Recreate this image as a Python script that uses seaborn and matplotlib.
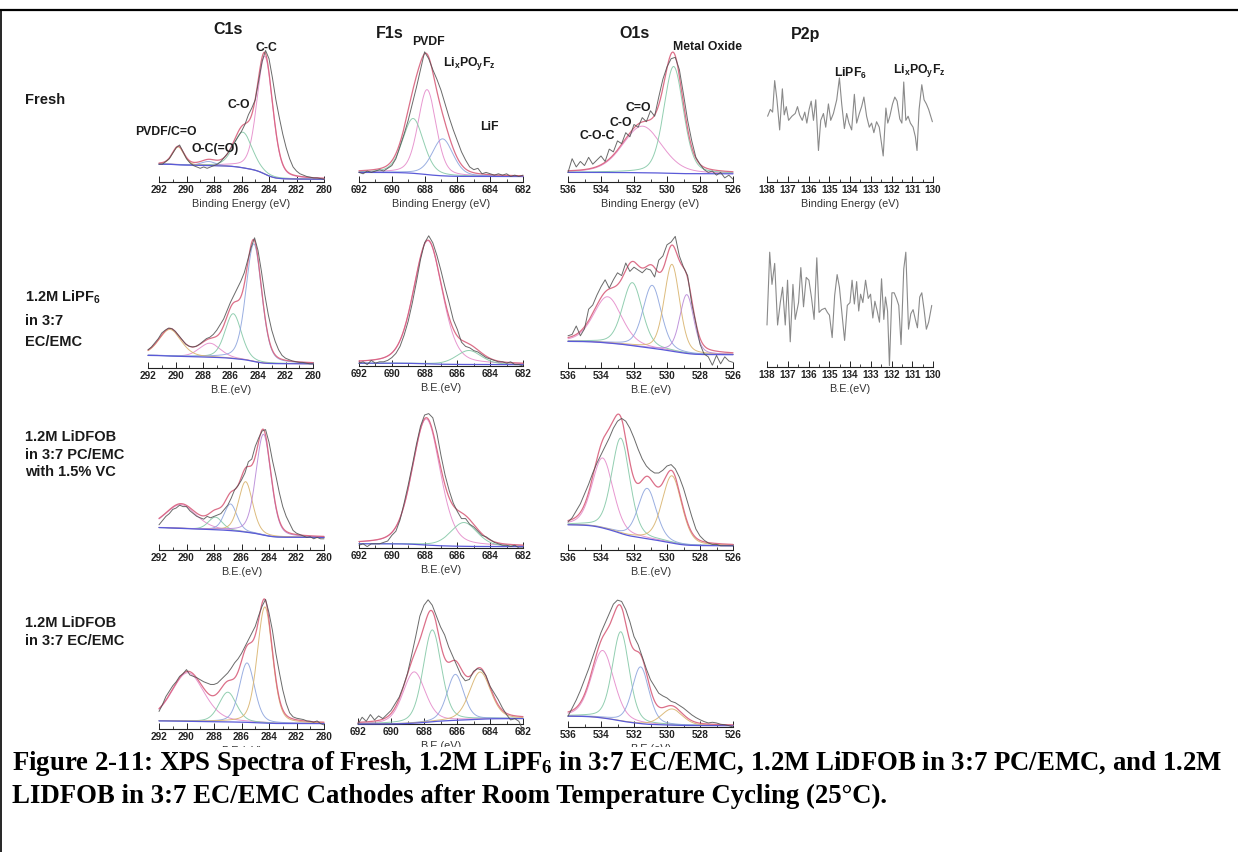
import numpy as np
import matplotlib
matplotlib.use("Agg")
import matplotlib.pyplot as plt
from matplotlib.lines import Line2D
from matplotlib.ticker import MultipleLocator, FormatStrFormatter
import seaborn as sns

# ------------------------------------------------------------------ data
# energy grids of the measured spectra (eV)
C1S_E = np.linspace(292, 280, 49)
F1S_E = np.linspace(692, 682, 41)
O1S_E = np.linspace(536, 526, 41)

# measured intensities (normalised counts)
C1S_FRESH = [0.13, 0.13, 0.15, 0.17, 0.21, 0.25, 0.27, 0.22, 0.17, 0.14,
             0.12, 0.11, 0.10, 0.11, 0.10, 0.11, 0.12, 0.13, 0.15, 0.18,
             0.21, 0.25, 0.29, 0.33, 0.37, 0.42, 0.49, 0.54, 0.60, 0.74,
             0.88, 0.96, 0.90, 0.76, 0.60, 0.47, 0.35, 0.25, 0.17, 0.11,
             0.08, 0.06, 0.05, 0.04, 0.035, 0.03, 0.03, 0.025, 0.02]
F1S_FRESH = [0.07, 0.06, 0.08, 0.07, 0.08, 0.09, 0.08, 0.10, 0.12, 0.17,
             0.26, 0.35, 0.45, 0.57, 0.69, 0.82, 0.95, 0.90, 0.82, 0.75,
             0.67, 0.57, 0.47, 0.38, 0.30, 0.22, 0.16, 0.11, 0.09, 0.10,
             0.06, 0.07, 0.06, 0.05, 0.06, 0.05, 0.06, 0.04, 0.05, 0.04, 0.05]
O1S_FRESH = [0.07, 0.17, 0.11, 0.15, 0.12, 0.18, 0.13, 0.16, 0.19, 0.15,
             0.24, 0.22, 0.30, 0.28, 0.36, 0.33, 0.42, 0.40, 0.47, 0.44,
             0.52, 0.48, 0.62, 0.75, 0.84, 0.90, 0.91, 0.82, 0.64, 0.45,
             0.30, 0.18, 0.13, 0.09, 0.07, 0.08, 0.05, 0.07, 0.03, 0.05, 0.02]
P2P_FRESH_E = [137.97, 137.84, 137.73, 137.63, 137.52, 137.39, 137.26, 137.17, 137.07, 136.96,
               136.80, 136.64, 136.53, 136.43, 136.30, 136.18, 136.08, 135.97, 135.87, 135.76,
               135.65, 135.52, 135.41, 135.28, 135.17, 135.04, 134.93, 134.80, 134.64, 134.51,
               134.40, 134.27, 134.16, 134.05, 133.92, 133.79, 133.68, 133.55, 133.44, 133.33,
               133.20, 133.07, 132.96, 132.85, 132.72, 132.59, 132.48, 132.40, 132.27, 132.18,
               132.08, 131.95, 131.84, 131.73, 131.60, 131.50, 131.41, 131.31, 131.20, 131.09,
               130.96, 130.85, 130.77, 130.67, 130.54, 130.43, 130.32, 130.21, 130.03]
P2P_FRESH = [0.48, 0.53, 0.51, 0.74, 0.60, 0.38, 0.68, 0.49, 0.55, 0.45,
             0.48, 0.50, 0.55, 0.49, 0.45, 0.51, 0.43, 0.53, 0.59, 0.45,
             0.60, 0.23, 0.45, 0.50, 0.40, 0.57, 0.45, 0.50, 0.60, 0.76,
             0.57, 0.39, 0.50, 0.43, 0.38, 0.64, 0.43, 0.50, 0.55, 0.62,
             0.48, 0.40, 0.43, 0.36, 0.44, 0.40, 0.28, 0.19, 0.54, 0.43,
             0.48, 0.57, 0.62, 0.59, 0.46, 0.43, 0.73, 0.45, 0.48, 0.43,
             0.40, 0.33, 0.23, 0.53, 0.71, 0.60, 0.57, 0.53, 0.44]

C1S_LIPF6 = [0.13, 0.15, 0.18, 0.21, 0.25, 0.27, 0.285, 0.28, 0.26, 0.23,
             0.20, 0.17, 0.155, 0.15, 0.155, 0.17, 0.19, 0.21, 0.22, 0.24,
             0.27, 0.31, 0.35, 0.41, 0.47, 0.52, 0.57, 0.62, 0.68, 0.77,
             0.86, 0.93, 0.84, 0.69, 0.52, 0.38, 0.27, 0.19, 0.13, 0.09,
             0.07, 0.06, 0.05, 0.045, 0.04, 0.04, 0.035, 0.03, 0.03]
F1S_LIPF6 = [0.02, 0.03, 0.01, 0.04, 0.02, 0.03, 0.03, 0.04, 0.06, 0.09,
             0.14, 0.22, 0.32, 0.45, 0.60, 0.76, 0.88, 0.93, 0.88, 0.79,
             0.68, 0.56, 0.45, 0.33, 0.26, 0.17, 0.14, 0.13, 0.11, 0.10,
             0.08, 0.06, 0.05, 0.04, 0.03, 0.03, 0.02, 0.03, 0.01, 0.01, 0.00]
O1S_LIPF6 = [0.23, 0.24, 0.30, 0.23, 0.28, 0.42, 0.45, 0.52, 0.58, 0.63,
             0.57, 0.63, 0.68, 0.66, 0.75, 0.69, 0.72, 0.70, 0.68, 0.71,
             0.70, 0.65, 0.77, 0.80, 0.88, 0.90, 0.94, 0.80, 0.72, 0.66,
             0.46, 0.32, 0.17, 0.10, 0.08, 0.02, 0.09, 0.03, 0.08, 0.05, 0.04]
P2P_LIPF6_E = [138.00, 137.87, 137.76, 137.63, 137.49, 137.36, 137.25, 137.12, 137.01, 136.88,
               136.75, 136.64, 136.48, 136.37, 136.24, 136.11, 135.98, 135.86, 135.73, 135.60,
               135.49, 135.36, 135.20, 135.09, 134.99, 134.86, 134.74, 134.62, 134.51, 134.38,
               134.26, 134.13, 134.00, 133.90, 133.79, 133.68, 133.58, 133.49, 133.38, 133.25,
               133.12, 133.01, 132.90, 132.80, 132.69, 132.58, 132.48, 132.37, 132.29, 132.19,
               132.10, 131.98, 131.87, 131.76, 131.65, 131.54, 131.41, 131.31, 131.18, 131.07,
               130.96, 130.85, 130.75, 130.64, 130.54, 130.43, 130.32, 130.21, 130.06]
P2P_LIPF6 = [0.30, 0.82, 0.59, 0.74, 0.30, 0.46, 0.57, 0.30, 0.62, 0.18,
             0.59, 0.34, 0.46, 0.71, 0.43, 0.64, 0.62, 0.50, 0.34, 0.78,
             0.39, 0.41, 0.42, 0.39, 0.37, 0.21, 0.51, 0.66, 0.57, 0.37,
             0.19, 0.44, 0.46, 0.62, 0.45, 0.61, 0.40, 0.52, 0.46, 0.62,
             0.49, 0.52, 0.35, 0.47, 0.40, 0.32, 0.63, 0.34, 0.50, 0.40,
             0.01, 0.53, 0.53, 0.49, 0.44, 0.16, 0.70, 0.82, 0.27, 0.38,
             0.41, 0.34, 0.28, 0.50, 0.53, 0.41, 0.27, 0.32, 0.44]

C1S_PC_VC = [0.18, 0.21, 0.24, 0.26, 0.29, 0.30, 0.32, 0.31, 0.31, 0.28,
             0.26, 0.24, 0.23, 0.22, 0.24, 0.23, 0.24, 0.25, 0.26, 0.29,
             0.32, 0.37, 0.43, 0.46, 0.50, 0.55, 0.63, 0.65, 0.74, 0.80,
             0.85, 0.86, 0.77, 0.64, 0.53, 0.41, 0.31, 0.24, 0.19, 0.14,
             0.12, 0.11, 0.10, 0.09, 0.095, 0.08, 0.09, 0.08, 0.08]
F1S_PC_VC = [0.02, 0.03, 0.01, 0.03, 0.03, 0.03, 0.04, 0.05, 0.09, 0.12,
             0.20, 0.32, 0.45, 0.59, 0.74, 0.87, 0.95, 0.96, 0.93, 0.82,
             0.66, 0.52, 0.41, 0.32, 0.26, 0.21, 0.21, 0.17, 0.15, 0.12,
             0.09, 0.08, 0.06, 0.04, 0.03, 0.02, 0.02, 0.01, 0.02, 0.00, 0.00]
O1S_PC_VC = [0.20, 0.23, 0.28, 0.33, 0.40, 0.47, 0.55, 0.62, 0.68, 0.74,
             0.80, 0.87, 0.92, 0.94, 0.92, 0.87, 0.80, 0.72, 0.65, 0.60,
             0.57, 0.55, 0.55, 0.57, 0.60, 0.61, 0.58, 0.52, 0.44, 0.34,
             0.24, 0.15, 0.10, 0.07, 0.05, 0.04, 0.04, 0.03, 0.03, 0.03, 0.03]

C1S_EC = [0.13, 0.18, 0.24, 0.28, 0.32, 0.35, 0.39, 0.41, 0.44, 0.40,
          0.39, 0.38, 0.365, 0.35, 0.34, 0.33, 0.33, 0.34, 0.365, 0.39,
          0.415, 0.45, 0.49, 0.52, 0.56, 0.61, 0.66, 0.71, 0.76, 0.84,
          0.91, 0.96, 0.86, 0.73, 0.56, 0.42, 0.29, 0.19, 0.12, 0.09,
          0.08, 0.075, 0.07, 0.06, 0.057, 0.05, 0.06, 0.04, 0.03]
F1S_EC = [0.00, 0.05, 0.02, 0.07, 0.03, 0.06, 0.04, 0.07, 0.10, 0.15,
          0.20, 0.28, 0.375, 0.51, 0.65, 0.80, 0.88, 0.92, 0.88, 0.80,
          0.72, 0.66, 0.57, 0.50, 0.43, 0.36, 0.32, 0.33, 0.39, 0.41,
          0.40, 0.36, 0.28, 0.23, 0.18, 0.12, 0.07, 0.03, 0.04, 0.02, -0.05]
O1S_EC = [0.08, 0.14, 0.20, 0.27, 0.35, 0.43, 0.52, 0.61, 0.70, 0.77,
          0.84, 0.91, 0.94, 0.93, 0.87, 0.78, 0.67, 0.61, 0.52, 0.43,
          0.35, 0.30, 0.25, 0.23, 0.215, 0.19, 0.18, 0.16, 0.14, 0.115,
          0.09, 0.07, 0.054, 0.04, 0.03, 0.035, 0.03, 0.02, 0.017, 0.01, 0.00]

# fitted components: (centre eV, height, FWHM eV)
C1S_FRESH_FIT = [(284.3, 0.86, 1.35), (285.9, 0.26, 1.6), (288.4, 0.03, 1.2), (290.6, 0.13, 1.0)]
F1S_FRESH_FIT = [(687.85, 0.62, 1.3), (688.7, 0.40, 1.5), (686.9, 0.27, 1.5)]
O1S_FRESH_FIT = [(531.5, 0.34, 2.8), (529.6, 0.78, 1.4)]
C1S_LIPF6_FIT = [(287.5, 0.10, 1.8), (285.8, 0.32, 1.4), (284.3, 0.84, 1.35), (290.4, 0.19, 1.9)]
F1S_LIPF6_FIT = [(687.8, 0.88, 2.05), (685.3, 0.10, 1.8)]
O1S_LIPF6_FIT = [(533.6, 0.33, 2.0), (532.1, 0.45, 1.4), (530.9, 0.45, 1.3),
                 (529.7, 0.62, 1.1), (528.8, 0.42, 1.0)]
C1S_PC_VC_FIT = [(290.4, 0.17, 2.6), (287.9, 0.09, 1.2), (286.8, 0.19, 1.1),
                 (285.7, 0.36, 1.2), (284.4, 0.72, 1.3)]
F1S_PC_VC_FIT = [(687.9, 0.90, 2.0), (685.6, 0.17, 1.9)]
O1S_PC_VC_FIT = [(533.9, 0.50, 1.5), (532.8, 0.68, 1.3), (531.2, 0.36, 1.3), (529.7, 0.48, 1.4)]
C1S_EC_FIT = [(289.9, 0.36, 2.8), (287.0, 0.22, 1.5), (285.6, 0.44, 1.3), (284.3, 0.86, 1.3)]
F1S_EC_FIT = [(688.6, 0.38, 1.6), (687.5, 0.68, 1.3), (686.1, 0.34, 1.2), (684.6, 0.35, 1.5)]
O1S_EC_FIT = [(533.9, 0.50, 1.6), (532.8, 0.66, 1.2), (531.6, 0.42, 1.2), (529.7, 0.12, 1.5)]

# Shirley background end levels: (high-BE side, low-BE side)
C1S_FRESH_BG, F1S_FRESH_BG, O1S_FRESH_BG = (0.13, 0.02), (0.07, 0.04), (0.07, 0.06)
C1S_LIPF6_BG, F1S_LIPF6_BG, O1S_LIPF6_BG = (0.09, 0.03), (0.02, 0.01), (0.19, 0.095)
C1S_PC_VC_BG, F1S_PC_VC_BG, O1S_PC_VC_BG = (0.16, 0.09), (0.03, 0.01), (0.18, 0.03)
C1S_EC_BG, F1S_EC_BG, O1S_EC_BG = (0.06, 0.04), (0.00, 0.04), (0.08, 0.01)

SAMPLES = ["Fresh", "1.2M LiPF$_6$\nin 3:7\nEC/EMC",
           "1.2M LiDFOB\nin 3:7 PC/EMC\nwith 1.5% VC", "1.2M LiDFOB\nin 3:7 EC/EMC"]
REGIONS = ["C1s", "F1s", "O1s", "P2p"]
RANGES = {"C1s": (280, 292, 2), "F1s": (682, 692, 2), "O1s": (526, 536, 2), "P2p": (130, 138, 1)}

CAPTION = ["Figure 2-11: XPS Spectra of Fresh, 1.2M LiPF$_6$ in 3:7 EC/EMC, "
           "1.2M LiDFOB in 3:7 PC/EMC, and 1.2M",
           "LIDFOB in 3:7 EC/EMC Cathodes after Room Temperature Cycling (25\u00b0C)."]

# ------------------------------------------------------------------ style
sns.set_theme(style="white")
plt.rcParams["font.family"] = ["Liberation Sans", "DejaVu Sans"]
plt.rcParams["mathtext.default"] = "regular"

W, H = 1238, 852
fig = plt.figure(figsize=(W / 100, H / 100), dpi=100)
fig.patch.set_facecolor("white")

RAW_C, ENV_C, BG_C = "#505050", "#d8607c", "#5a5ad8"
COMP_C = ["#e58ccb", "#86c9a8", "#8fa6de", "#d9b46f", "#b98ad8"]


def ftext(x, y, s, **kw):
    return fig.text(x / W, 1 - y / H, s, **kw)


def panel_axes(left, right, axis_y, height):
    return fig.add_axes([left / W, 1 - axis_y / H, (right - left) / W, height / H])


def draw(ax, x, y, color, lw, z=2, alpha=1.0):
    sns.lineplot(x=np.asarray(x, float), y=np.asarray(y, float), ax=ax, color=color,
                 linewidth=lw, errorbar=None, legend=False, zorder=z, alpha=alpha)
    ax.lines[-1].set_clip_on(False)


def pseudo_voigt(E, c, h, w, eta=0.3):
    d = (E - c) / w
    return h * ((1 - eta) * np.exp(-4 * np.log(2) * d * d) + eta / (1 + 4 * d * d))


def style_axis(ax, region, xlabel):
    lo, hi, step = RANGES[region]
    ax.set_xlim(hi, lo)
    ax.set_ylim(0, 1)
    ax.patch.set_alpha(0)
    for s in ("top", "left", "right"):
        ax.spines[s].set_visible(False)
    ax.spines["bottom"].set_linewidth(0.8)
    ax.spines["bottom"].set_color("#222222")
    ax.set_yticks([])
    ax.xaxis.set_major_locator(MultipleLocator(step))
    ax.xaxis.set_minor_locator(MultipleLocator(step / 2))
    ax.xaxis.set_major_formatter(FormatStrFormatter("%d"))
    ax.tick_params(axis="x", which="major", direction="in", length=4, width=0.7,
                   labelsize=7.2, pad=2, colors="#222222", bottom=True)
    ax.tick_params(axis="x", which="minor", direction="in", length=2.5, width=0.6,
                   colors="#222222", bottom=True)
    for lab in ax.get_xticklabels():
        lab.set_fontweight("bold")
    ax.set_xlabel(xlabel, fontsize=7.8, labelpad=3, color="#333333")
    ax.set_ylabel("")


def fitted_panel(ax, region, E, raw, fit, bg_levels):
    lo, hi, _ = RANGES[region]
    Ef = np.linspace(lo, hi, 500)
    comps = [pseudo_voigt(Ef, c, h, w) for c, h, w in fit]
    total = np.sum(comps, axis=0)
    cum = np.concatenate([[0], np.cumsum(0.5 * (total[1:] + total[:-1]) * np.diff(Ef))])
    bg_hi, bg_lo = bg_levels
    bg = bg_lo + (bg_hi - bg_lo) * cum / cum[-1]
    for i, comp in enumerate(comps):
        draw(ax, Ef, bg + comp, COMP_C[i % len(COMP_C)], 0.7, z=2, alpha=0.9)
    draw(ax, Ef, bg, BG_C, 0.9, z=3)
    draw(ax, Ef, bg + total, ENV_C, 0.9, z=4, alpha=0.9)
    draw(ax, E, raw, RAW_C, 0.7, z=5, alpha=0.85)


# panel boxes in pixels: left, right, axis line y, box height
BOX = {
    (0, 0): (159, 324, 182, 137), (0, 1): (359, 523, 182, 137),
    (0, 2): (568, 733, 182, 137), (0, 3): (767, 933, 182, 137),
    (1, 0): (148, 313, 368, 140), (1, 1): (359, 523, 366, 140),
    (1, 2): (568, 733, 368, 140), (1, 3): (767, 933, 367, 140),
    (2, 0): (159, 324, 550, 140), (2, 1): (359, 523, 548, 140),
    (2, 2): (568, 733, 550, 140),
    (3, 0): (159, 324, 729, 135), (3, 1): (358, 523, 724, 135),
    (3, 2): (568, 733, 727, 135),
}

FITTED = {
    (0, 0): ("C1s", C1S_E, C1S_FRESH, C1S_FRESH_FIT, C1S_FRESH_BG),
    (0, 1): ("F1s", F1S_E, F1S_FRESH, F1S_FRESH_FIT, F1S_FRESH_BG),
    (0, 2): ("O1s", O1S_E, O1S_FRESH, O1S_FRESH_FIT, O1S_FRESH_BG),
    (1, 0): ("C1s", C1S_E, C1S_LIPF6, C1S_LIPF6_FIT, C1S_LIPF6_BG),
    (1, 1): ("F1s", F1S_E, F1S_LIPF6, F1S_LIPF6_FIT, F1S_LIPF6_BG),
    (1, 2): ("O1s", O1S_E, O1S_LIPF6, O1S_LIPF6_FIT, O1S_LIPF6_BG),
    (2, 0): ("C1s", C1S_E, C1S_PC_VC, C1S_PC_VC_FIT, C1S_PC_VC_BG),
    (2, 1): ("F1s", F1S_E, F1S_PC_VC, F1S_PC_VC_FIT, F1S_PC_VC_BG),
    (2, 2): ("O1s", O1S_E, O1S_PC_VC, O1S_PC_VC_FIT, O1S_PC_VC_BG),
    (3, 0): ("C1s", C1S_E, C1S_EC, C1S_EC_FIT, C1S_EC_BG),
    (3, 1): ("F1s", F1S_E, F1S_EC, F1S_EC_FIT, F1S_EC_BG),
    (3, 2): ("O1s", O1S_E, O1S_EC, O1S_EC_FIT, O1S_EC_BG),
}
NOISE_ONLY = {(0, 3): (P2P_FRESH_E, P2P_FRESH), (1, 3): (P2P_LIPF6_E, P2P_LIPF6)}

for key, box in BOX.items():
    ax = panel_axes(*box)
    row = key[0]
    xlabel = "Binding Energy (eV)" if row == 0 else "B.E.(eV)"
    if key in FITTED:
        region, E, raw, fit, bgl = FITTED[key]
        fitted_panel(ax, region, E, raw, fit, bgl)
    else:
        region = "P2p"
        e, v = NOISE_ONLY[key]
        draw(ax, e, v, "#8a8a8a", 0.8, z=5)
    style_axis(ax, region, xlabel)

# region headers
HEAD_FONT = dict(fontsize=11.5, fontweight="bold", ha="center", va="center", color="#1a1a1a")
for name, (x, y) in zip(REGIONS, [(228, 30), (390, 33), (634, 33), (806, 34)]):
    ftext(x, y, name, **HEAD_FONT)

# peak assignments on the fresh spectra
ANN_FONT = dict(fontsize=8.8, fontweight="bold", ha="left", va="center", color="#1a1a1a")
for s, x, y in [("C-C", 255, 48), ("C-O", 227, 105), ("PVDF/C=O", 135, 132),
                ("O-C(=O)", 192, 149), ("PVDF", 412, 42), ("Li$_x$PO$_y$F$_z$", 443, 64),
                ("LiF", 480, 127), ("Metal Oxide", 673, 47), ("C=O", 625, 108),
                ("C-O", 609, 123), ("C-O-C", 580, 136), ("LiPF$_6$", 834, 73),
                ("Li$_x$PO$_y$F$_z$", 893, 71)]:
    ftext(x, y, s, **ANN_FONT)

# sample labels
ROW_FONT = dict(fontsize=10.5, fontweight="bold", ha="left", va="center", color="#1a1a1a")
ROW_LINES = [[100], [297, 321, 342], [437, 455, 472], [623, 641]]
for label, ys in zip(SAMPLES, ROW_LINES):
    for line, y in zip(label.split("\n"), ys):
        ftext(25, y, line, **ROW_FONT)

# caption
CAP_FONT = dict(family=["Liberation Serif", "DejaVu Serif"], fontweight="bold",
                ha="left", va="center", color="black", fontsize=17)
cap1 = ftext(12, 763, CAPTION[0], **CAP_FONT,
             bbox=dict(facecolor="white", edgecolor="none", pad=1))
cap2 = ftext(12, 796, CAPTION[1], **CAP_FONT)
fig.canvas.draw()
w1 = cap1.get_window_extent(fig.canvas.get_renderer()).width
fs = 17 * 1212 / w1
cap1.set_fontsize(fs)
cap2.set_fontsize(fs)

# page frame
fig.add_artist(Line2D([0, 1], [1 - 10 / H, 1 - 10 / H], transform=fig.transFigure,
                      color="black", lw=1.6))
fig.add_artist(Line2D([1 / W, 1 / W], [0, 1 - 10 / H], transform=fig.transFigure,
                      color="black", lw=1.2))

fig.savefig("out.png", dpi=100, facecolor="white")
